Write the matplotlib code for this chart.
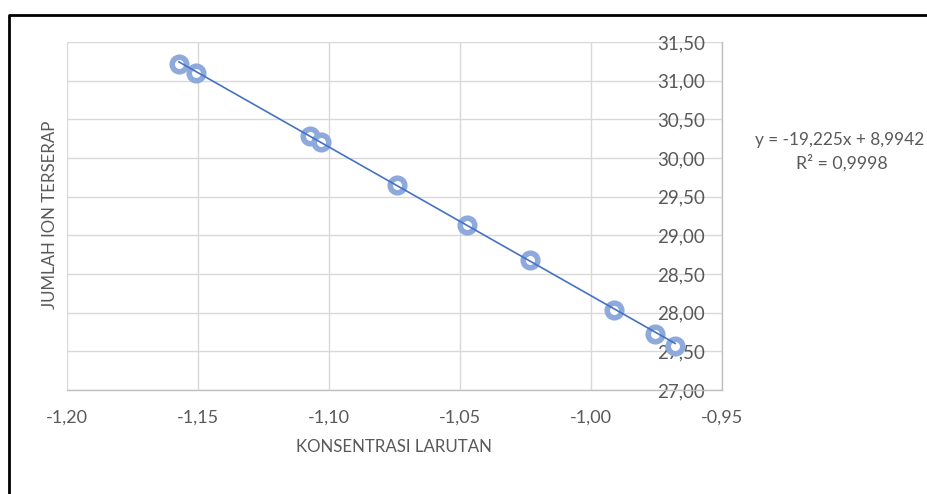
import matplotlib
matplotlib.use("Agg")
import matplotlib.pyplot as plt
from matplotlib.lines import Line2D
from matplotlib.ticker import FuncFormatter, MultipleLocator
import numpy as np

plt.rcParams['font.family'] = ['Lato', 'DejaVu Sans']

# Data
konsentrasi = [-1.1573, -1.1508, -1.1073, -1.1031, -1.0740, -1.0473, -1.0233, -0.9912, -0.9756, -0.9679]
ion_terserap = [31.22, 31.10, 30.28, 30.21, 29.65, 29.13, 28.68, 28.03, 27.72, 27.57]
slope = -19.225
intercept = 8.9942
r2_text = "R² = 0,9998"
eq_text = "y = -19,225x + 8,9942"
x_title = "KONSENTRASI LARUTAN"
y_title = "JUMLAH ION TERSERAP"

W, H = 928, 494
fig = plt.figure(figsize=(W / 100, H / 100), dpi=100)
ax = fig.add_axes([67 / W, 1 - 390 / H, (722 - 67) / W, (390 - 42) / H])

gray_text = '#595959'
grid_c = '#D9D9D9'

ax.set_xlim(-1.20, -0.95)
ax.set_ylim(27.0, 31.5)
ax.xaxis.set_major_locator(MultipleLocator(0.05))
ax.yaxis.set_major_locator(MultipleLocator(0.5))
fmt = FuncFormatter(lambda v, p: f"{v:.2f}".replace('.', ','))
ax.xaxis.set_major_formatter(fmt)
ax.yaxis.set_major_formatter(fmt)

ax.grid(True, color=grid_c, linewidth=1.0)
ax.set_axisbelow(True)
for s in ['left', 'top']:
    ax.spines[s].set_visible(False)
for s in ['bottom', 'right']:
    ax.spines[s].set_color('#BFBFBF')
    ax.spines[s].set_linewidth(1.0)

ax.yaxis.tick_right()
ax.tick_params(axis='both', length=0, labelcolor=gray_text)
ax.tick_params(axis='x', pad=14, labelsize=13)
ax.tick_params(axis='y', pad=-12, labelsize=13.5)
for lab in ax.get_yticklabels():
    lab.set_horizontalalignment('right')

ax.scatter(konsentrasi, ion_terserap, s=110, facecolors='white', edgecolors='#8EA9DB',
           linewidths=4.0, zorder=3)

xs = np.array([min(konsentrasi), max(konsentrasi)])
ax.plot(xs, slope * xs + intercept, color='#4472C4', linewidth=1.2, zorder=4)

fig.text(394 / W, 1 - 447 / H, x_title, ha='center', va='center', fontsize=12.2, color=gray_text)
fig.text(50 / W, 1 - 215 / H, y_title, ha='center', va='center', rotation=90, fontsize=12.2, color=gray_text)

fig.text(840 / W, 1 - 140 / H, eq_text, ha='center', va='center', fontsize=12.4, color=gray_text)
fig.text(842 / W, 1 - 163 / H, r2_text, ha='center', va='center', fontsize=12.8, color=gray_text)

# Outer frame (top & left visible)
fig.add_artist(Line2D([9 / W, 9 / W, 1.0], [0.0, 1 - 15 / H, 1 - 15 / H],
                      transform=fig.transFigure, color='black', linewidth=2.0))

fig.savefig('out.png', dpi=100)
